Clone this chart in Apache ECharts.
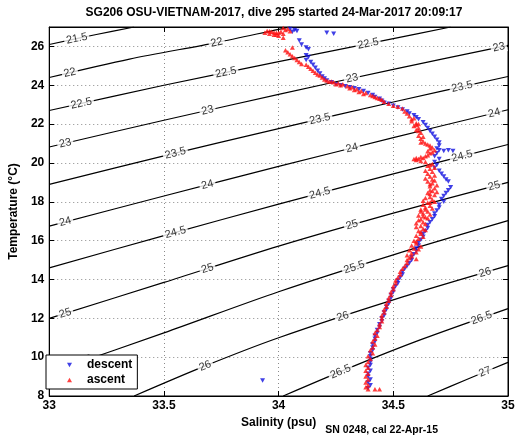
<!DOCTYPE html>
<html><head><meta charset="utf-8">
<script src="https://cdn.jsdelivr.net/npm/echarts@6/dist/echarts.min.js"></script>
<style>html,body{margin:0;padding:0;background:#fff}#c{width:519px;height:442px}</style>
</head><body><div id="c"></div>
<script>
const salinityTicks = [33, 33.5, 34, 34.5, 35];
const temperatureTicks = [8, 10, 12, 14, 16, 18, 20, 22, 24, 26];

const descent = [
[34.05,26.9],[34.07,26.85],[34.08,26.8],[34.06,26.75],[34.21,26.7],[34.24,26.65],
[34.09,26.3],[34.1,26.1],[34.12,25.95],[34.13,25.85],[34.12,25.55],[34.13,25.45],[34.12,25.3],
[34.14,25.2],[34.15,25.05],[34.16,24.9],[34.17,24.75],[34.18,24.6],[34.19,24.45],[34.2,24.35],[34.21,24.25],[34.23,24.15],[34.25,24.05],[34.27,24.0],[34.29,23.95],[34.31,23.9],[34.33,23.85],[34.35,23.8],[34.37,23.7],[34.39,23.6],[34.41,23.5],[34.42,23.4],[34.44,23.3],[34.45,23.2],[34.46,23.1],[34.48,23.05],
[34.5,22.95],[34.52,22.85],[34.54,22.75],[34.56,22.65],[34.57,22.55],[34.59,22.45],[34.6,22.35],[34.61,22.25],[34.63,22.1],[34.64,21.95],[34.65,21.8],[34.66,21.65],[34.67,21.5],[34.68,21.35],[34.69,21.2],[34.7,21.05],[34.7,20.9],
[34.69,20.75],[34.7,20.65],[34.72,20.62],[34.74,20.66],[34.76,20.62],[34.69,20.5],[34.68,20.35],[34.7,20.2],[34.68,20.05],[34.69,19.9],[34.68,19.75],[34.7,19.6],[34.71,19.45],[34.72,19.3],[34.73,19.15],[34.74,19.05],[34.75,18.75],[34.74,18.6],[34.73,18.45],
[34.72,18.3],[34.71,18.15],[34.72,18.0],[34.7,17.85],[34.7,17.7],[34.69,17.55],[34.68,17.4],[34.68,17.25],[34.67,17.1],[34.66,16.95],[34.65,16.8],[34.65,16.65],[34.64,16.5],[34.63,16.35],[34.63,16.2],[34.62,16.05],[34.61,15.9],[34.61,15.75],[34.6,15.6],[34.6,15.45],[34.59,15.3],[34.58,15.15],[34.58,15.0],[34.57,14.85],[34.56,14.7],[34.55,14.55],[34.54,14.4],[34.54,14.25],[34.53,14.1],[34.52,13.95],[34.52,13.8],[34.51,13.65],[34.5,13.5],[34.5,13.35],[34.49,13.2],[34.49,13.05],[34.48,12.9],[34.48,12.75],[34.47,12.6],[34.47,12.45],[34.46,12.3],[34.46,12.15],[34.45,12.0],[34.45,11.85],[34.44,11.7],[34.44,11.55],[34.43,11.4],[34.43,11.25],[34.42,11.1],[34.42,10.95],[34.42,10.8],[34.41,10.65],[34.41,10.5],[34.41,10.35],[34.4,10.2],[34.4,10.05],[34.4,9.9],[34.4,9.75],[34.4,9.6],[34.39,9.45],[34.4,9.3],[34.39,9.15],[34.39,9.0],[34.4,8.85],[34.39,8.7],[34.4,8.55],[34.39,8.4],
[33.93,8.8]
];

const ascent = [
[34.39,8.35],[34.42,8.35],[34.44,8.35],[34.38,8.45],[34.39,8.55],[34.38,8.7],[34.39,8.85],[34.38,9.0],[34.39,9.15],[34.38,9.3],[34.39,9.45],[34.38,9.6],[34.39,9.75],[34.4,9.9],[34.39,10.05],[34.41,10.2],[34.4,10.35],[34.41,10.5],[34.42,10.65],[34.41,10.8],[34.42,10.95],[34.43,11.1],[34.42,11.25],[34.43,11.4],[34.44,11.55],[34.44,11.7],[34.45,11.85],[34.45,12.0],[34.45,12.15],[34.46,12.3],[34.46,12.45],[34.47,12.6],[34.47,12.75],[34.48,12.9],[34.48,13.05],[34.49,13.2],[34.49,13.35],[34.5,13.5],[34.5,13.65],[34.51,13.8],[34.51,13.95],[34.52,14.1],[34.53,14.25],[34.53,14.4],[34.54,14.55],[34.55,14.7],[34.56,14.85],
[34.56,15.0],[34.57,15.1],[34.56,15.25],[34.58,15.35],[34.57,15.5],[34.59,15.6],[34.58,15.75],[34.6,15.85],[34.59,16.0],[34.61,16.1],[34.6,16.25],[34.62,16.35],[34.61,16.5],[34.63,16.6],[34.62,16.75],[34.6,16.9],[34.63,16.95],[34.62,17.1],[34.64,17.2],[34.61,17.3],[34.63,17.4],[34.65,17.5],[34.62,17.6],[34.64,17.7],[34.66,17.8],[34.65,17.95],[34.63,18.05],[34.67,18.1],[34.66,18.25],[34.68,18.35],[34.65,18.45],[34.67,18.55],[34.68,18.7],[34.66,18.8],[34.67,18.95],[34.65,19.05],[34.67,19.15],[34.66,19.3],[34.65,19.45],[34.67,19.55],[34.66,19.7],[34.65,19.85],[34.67,19.95],[34.64,20.05],
[34.6,15.05],[34.58,15.2],[34.6,15.4],[34.61,15.55],[34.62,15.7],[34.6,15.95],[34.63,16.2],[34.62,16.45],[34.64,16.55],[34.6,16.7],[34.64,16.85],[34.61,17.05],[34.65,17.15],[34.63,17.25],[34.66,17.35],[34.62,17.5],[34.64,17.6],[34.67,17.65],[34.63,17.85],[34.66,17.95],[34.68,18.0],[34.64,18.2],[34.66,18.4],[34.69,18.5],[34.66,18.6],[34.69,18.85],[34.66,18.9],[34.68,19.1],[34.64,19.2],[34.68,19.35],[34.64,19.6],[34.68,19.75],[34.66,19.9],[34.62,20.1],[34.6,20.15],
[34.59,20.2],[34.6,20.25],[34.61,20.2],[34.62,20.3],[34.63,20.25],[34.64,20.35],[34.65,20.4],[34.66,20.5],[34.67,20.55],[34.68,20.65],[34.67,20.8],[34.66,20.9],[34.64,21.0],
[34.65,20.95],[34.66,20.75],[34.65,20.6],[34.62,21.05],[34.63,21.35],[34.61,21.65],[34.6,21.95],[34.61,22.0],[34.58,22.25],
[34.63,21.1],[34.62,21.25],[34.61,21.4],[34.62,21.55],[34.6,21.7],[34.61,21.8],[34.59,21.9],[34.6,22.05],[34.58,22.15],[34.59,22.3],[34.57,22.4],[34.56,22.55],[34.55,22.65],[34.54,22.8],[34.52,22.9],[34.5,22.95],[34.48,23.05],[34.46,23.15],[34.44,23.3],[34.42,23.4],[34.4,23.5],[34.38,23.6],[34.36,23.7],[34.34,23.8],[34.32,23.9],[34.3,23.95],[34.28,24.05],[34.26,24.1],[34.24,24.15],[34.22,24.2],[34.2,24.3],
[34.45,23.25],[34.43,23.35],[34.41,23.45],[34.37,23.55],[34.35,23.65],[34.33,23.75],[34.31,23.85],[34.27,24.0],[34.25,24.05],[34.23,24.2],[34.21,24.25],
[34.19,24.4],[34.18,24.5],[34.17,24.55],[34.16,24.65],[34.15,24.75],[34.14,24.85],[34.13,24.95],[34.12,25.05],[34.1,25.1],[34.09,25.2],[34.08,25.3],[34.07,25.4],[34.06,25.5],[34.05,25.6],[34.04,25.7],[34.03,25.8],[34.06,25.95],
[34.02,26.45],[34.0,26.55],[33.98,26.6],[33.96,26.65],[33.94,26.7],[33.95,26.8],[33.97,26.75],[33.99,26.7],[34.01,26.75],[34.03,26.85],[34.02,26.65],
[34.0,26.7],[33.98,26.72],[33.96,26.78],[34.04,26.9],[34.02,26.95],[34.05,26.78],[33.99,26.6]
];

const sigmaLevels = [21.5, 22, 22.5, 23, 23.5, 24, 24.5, 25, 25.5, 26, 26.5, 27];
const sigmaLines = [
  [[33,26.1],[33.2,26.6],[33.37,27.0]],
  [[33,24.4],[33.35,25.35],[33.73,26.2],[34.0,26.88],[34.05,27.0]],
  [[33,22.7],[33.5,24.0],[34.0,25.22],[34.5,26.4],[34.75,27.0]],
  [[33,20.82],[33.5,22.2],[34,23.53],[34.5,24.82],[35,26.05]],
  [[33,18.9],[33.5,20.36],[34,21.77],[34.5,23.14],[35,24.45]],
  [[33,16.75],[33.5,18.3],[34,19.82],[34.5,21.3],[35,22.74]],
  [[33,14.6],[33.5,16.26],[34,17.88],[34.5,19.44],[35,20.95]],
  [[33,12.0],[33.5,13.85],[34,15.72],[34.5,17.42],[35,19.0]],
  [[33,9.2],[33.5,11.25],[34,13.37],[34.5,15.27],[35,17.03]],
  [[33.37,8],[33.68,9.55],[34,11.0],[34.5,12.95],[35,14.71]],
  [[34.02,8],[34.33,9.55],[34.62,10.9],[35,12.5]],
  [[34.65,8],[34.82,8.85],[35,9.73]]
];
const sigmaLabelSalinity = [
  [33.12],
  [33.09, 33.73],
  [33.14, 33.77, 34.39],
  [33.07, 33.69, 34.32, 34.96],
  [33.55, 34.18, 34.8],
  [33.07, 33.69, 34.32, 34.94],
  [33.55, 34.18, 34.8],
  [33.07, 33.69, 34.32, 34.94],
  [33.14, 34.33],
  [33.68, 34.28, 34.9],
  [34.27, 34.885],
  [34.9]
];

const FONT = "'Liberation Sans', Arial, Helvetica, sans-serif";
const downTri = 'path://M0,0L10,0L5,9Z';
const upTri = 'path://M5,0L10,9L0,9Z';

function tAt(line, s) {
  for (let i = 0; i < line.length - 1; i++) {
    const a = line[i], b = line[i + 1];
    if (s >= a[0] && s <= b[0]) return a[1] + (b[1] - a[1]) * (s - a[0]) / (b[0] - a[0]);
  }
  const a = line[line.length - 2], b = line[line.length - 1];
  return a[1] + (b[1] - a[1]) * (s - a[0]) / (b[0] - a[0]);
}

const chart = echarts.init(document.getElementById('c'), null, {renderer: 'canvas'});

const axisCommonX = {
  type: 'value', min: 33, max: 35, interval: 0.5,
  axisLine: {show: true, lineStyle: {color: '#000', width: 1}},
  axisTick: {show: true, inside: true, length: 5, lineStyle: {color: '#000'}},
};
const axisCommonY = {
  type: 'value', min: 8, max: 27, interval: 2,
  axisLine: {show: true, lineStyle: {color: '#000', width: 1}},
  axisTick: {show: true, inside: true, length: 5, lineStyle: {color: '#000'}},
};

const contourSeries = sigmaLines.map((pts, i) => ({
  type: 'line', name: 'sigma' + sigmaLevels[i], data: pts, smooth: 0.3,
  symbol: 'none', silent: true, z: 1, clip: true,
  lineStyle: {color: '#000', width: 1.2}
}));

const option = {
  animation: false,
  backgroundColor: '#fff',
  grid: {left: 40, top: 27, width: 468, height: 369, show: true, borderColor: '#000', borderWidth: 1, backgroundColor: 'transparent'},
  xAxis: [
    Object.assign({}, axisCommonX, {
      position: 'bottom',
      name: 'Salinity (psu)', nameLocation: 'middle', nameGap: 17,
      nameTextStyle: {fontFamily: FONT, fontWeight: 'bold', fontSize: 12, color: '#000'},
      axisLabel: {fontFamily: FONT, fontWeight: 'bold', fontSize: 12, color: '#000', margin: 4,
        formatter: v => salinityTicks.includes(v) ? String(v) : ''},
      splitLine: {show: true, lineStyle: {color: '#8a8a8a', type: [1, 3], width: 1}}
    }),
    Object.assign({}, axisCommonX, {position: 'top', axisLabel: {show: false}, splitLine: {show: false}})
  ],
  yAxis: [
    Object.assign({}, axisCommonY, {
      position: 'left',
      name: 'Temperature (°C)', nameLocation: 'middle', nameGap: 27, nameRotate: 90,
      nameTextStyle: {fontFamily: FONT, fontWeight: 'bold', fontSize: 12, color: '#000'},
      axisLabel: {fontFamily: FONT, fontWeight: 'bold', fontSize: 12, color: '#000', margin: 5, showMaxLabel: false,
        formatter: v => temperatureTicks.includes(v) ? String(v) : ''},
      splitLine: {show: true, lineStyle: {color: '#8a8a8a', type: [1, 3], width: 1}}
    }),
    Object.assign({}, axisCommonY, {position: 'right', axisLabel: {show: false}, splitLine: {show: false}})
  ],
  legend: {
    left: 46, top: 355, orient: 'vertical',
    backgroundColor: '#fff', borderColor: '#000', borderWidth: 1,
    padding: [4, 5, 3, 21], itemWidth: 5, itemHeight: 5, itemGap: 3,
    textStyle: {fontFamily: FONT, fontWeight: 'bold', fontSize: 12, color: '#000', padding: [0, 0, 0, 10]},
    data: [{name: 'descent', icon: downTri}, {name: 'ascent', icon: upTri}],
    selectedMode: false
  },
  graphic: [
    {type: 'text', x: 274, y: 13, silent: true,
      style: {text: 'SG206 OSU-VIETNAM-2017, dive 295 started 24-Mar-2017 20:09:17', font: 'bold 12px ' + FONT,
        fill: '#000', align: 'center', verticalAlign: 'middle', textAlign: 'center', textVerticalAlign: 'middle'}},
    {type: 'text', x: 438, y: 430, silent: true,
      style: {text: 'SN 0248, cal 22-Apr-15', font: 'bold 10.5px ' + FONT,
        fill: '#000', align: 'right', verticalAlign: 'middle', textAlign: 'right', textVerticalAlign: 'middle'}}
  ],
  series: contourSeries.concat([
    {type: 'scatter', name: 'descent', data: descent, symbol: downTri, symbolSize: [5, 4.5], z: 5,
      itemStyle: {color: '#1010e0'}},
    {type: 'scatter', name: 'ascent', data: ascent, symbol: upTri, symbolSize: [5, 4.5], z: 5,
      itemStyle: {color: '#ff1010'}}
  ])
};
chart.setOption(option);

const labelData = [];
sigmaLevels.forEach((lev, i) => {
  sigmaLabelSalinity[i].forEach(s => {
    const t = tAt(sigmaLines[i], s);
    const p1 = chart.convertToPixel({gridIndex: 0}, [s - 0.03, tAt(sigmaLines[i], s - 0.03)]);
    const p2 = chart.convertToPixel({gridIndex: 0}, [s + 0.03, tAt(sigmaLines[i], s + 0.03)]);
    const ang = -Math.atan2(p2[1] - p1[1], p2[0] - p1[0]) * 180 / Math.PI;
    labelData.push({value: [s, t], label: {formatter: String(lev), rotate: ang}});
  });
});
const labelSeries = {
  type: 'scatter', name: 'sigmaLabels', data: labelData, symbolSize: 1, z: 2, silent: true,
  itemStyle: {color: 'rgba(0,0,0,0)'},
  label: {show: true, position: 'inside', fontFamily: FONT, fontSize: 11, color: '#000',
    backgroundColor: '#fff', padding: [0, 2]},
  labelLayout: {hideOverlap: false}
};
chart.setOption({series: option.series.concat([labelSeries])});
</script></body></html>
